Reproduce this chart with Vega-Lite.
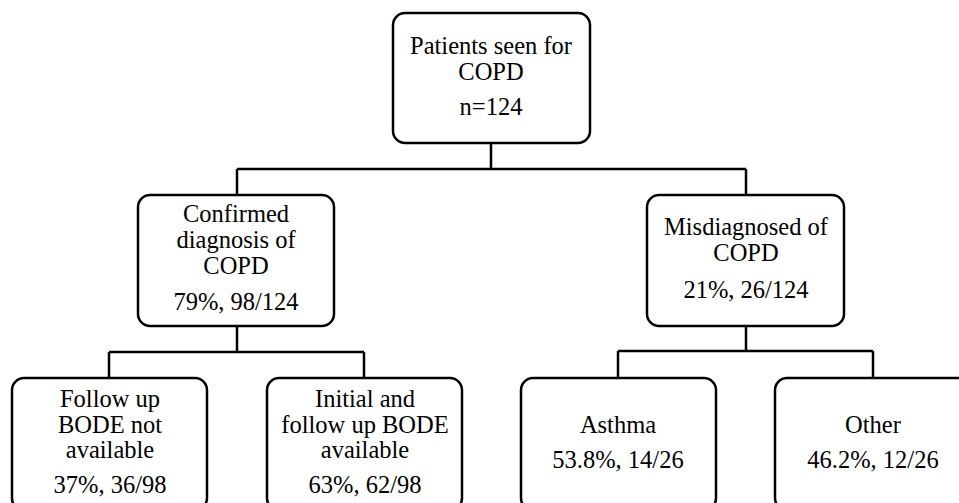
{
  "$schema": "https://vega.github.io/schema/vega-lite/v6.json",
  "width": 959,
  "height": 503,
  "padding": 0,
  "autosize": {"type": "none"},
  "background": "white",
  "config": {"view": {"stroke": null}},
  "datasets": {
    "boxes": [
      {"id": "top", "x1": 393, "x2": 590, "y1": 13, "y2": 143},
      {"id": "confirmed", "x1": 138, "x2": 334, "y1": 195, "y2": 326},
      {"id": "misdiagnosed", "x1": 647, "x2": 844, "y1": 195, "y2": 326},
      {"id": "followup", "x1": 12, "x2": 207, "y1": 378, "y2": 510},
      {"id": "initial", "x1": 267, "x2": 462, "y1": 378, "y2": 510},
      {"id": "asthma", "x1": 521, "x2": 716, "y1": 378, "y2": 510},
      {"id": "other", "x1": 775, "x2": 971, "y1": 378, "y2": 510}
    ],
    "links": [
      {"x1": 491, "x2": 491, "y1": 143, "y2": 169},
      {"x1": 237, "x2": 746, "y1": 169, "y2": 169},
      {"x1": 237, "x2": 237, "y1": 169, "y2": 195},
      {"x1": 746, "x2": 746, "y1": 169, "y2": 195},
      {"x1": 237, "x2": 237, "y1": 326, "y2": 352},
      {"x1": 109, "x2": 364, "y1": 352, "y2": 352},
      {"x1": 109, "x2": 109, "y1": 352, "y2": 378},
      {"x1": 364, "x2": 364, "y1": 352, "y2": 378},
      {"x1": 746, "x2": 746, "y1": 326, "y2": 351},
      {"x1": 618, "x2": 873, "y1": 351, "y2": 351},
      {"x1": 618, "x2": 618, "y1": 351, "y2": 378},
      {"x1": 873, "x2": 873, "y1": 351, "y2": 378}
    ],
    "labels": [
      {"text": "Patients seen for", "x": 491, "y": 54},
      {"text": "COPD", "x": 491, "y": 80},
      {"text": "n=124", "x": 491, "y": 115},
      {"text": "Confirmed", "x": 236, "y": 222},
      {"text": "diagnosis of", "x": 236, "y": 248},
      {"text": "COPD", "x": 236, "y": 274},
      {"text": "79%, 98/124", "x": 236, "y": 310},
      {"text": "Misdiagnosed of", "x": 746, "y": 235},
      {"text": "COPD", "x": 746, "y": 261},
      {"text": "21%, 26/124", "x": 746, "y": 298},
      {"text": "Follow up", "x": 110, "y": 407},
      {"text": "BODE not", "x": 110, "y": 433},
      {"text": "available", "x": 110, "y": 458},
      {"text": "37%, 36/98", "x": 110, "y": 493},
      {"text": "Initial and", "x": 365, "y": 407},
      {"text": "follow up BODE", "x": 365, "y": 433},
      {"text": "available", "x": 365, "y": 458},
      {"text": "63%, 62/98", "x": 365, "y": 493},
      {"text": "Asthma", "x": 618, "y": 433},
      {"text": "53.8%, 14/26", "x": 618, "y": 468},
      {"text": "Other", "x": 873, "y": 433},
      {"text": "46.2%, 12/26", "x": 873, "y": 468}
    ]
  },
  "layer": [
    {
      "data": {"name": "links"},
      "mark": {"type": "rule", "stroke": "black", "strokeWidth": 2.5, "clip": true},
      "encoding": {
        "x": {"field": "x1", "type": "quantitative", "scale": {"domain": [0, 959]}, "axis": null},
        "x2": {"field": "x2"},
        "y": {"field": "y1", "type": "quantitative", "scale": {"domain": [0, 503], "reverse": true}, "axis": null},
        "y2": {"field": "y2"}
      }
    },
    {
      "data": {"name": "boxes"},
      "mark": {"type": "rect", "fill": "white", "stroke": "black", "strokeWidth": 2.5, "cornerRadius": 12, "clip": true},
      "encoding": {
        "x": {"field": "x1", "type": "quantitative", "scale": {"domain": [0, 959]}, "axis": null},
        "x2": {"field": "x2"},
        "y": {"field": "y1", "type": "quantitative", "scale": {"domain": [0, 503], "reverse": true}, "axis": null},
        "y2": {"field": "y2"}
      }
    },
    {
      "data": {"name": "labels"},
      "mark": {"type": "text", "font": "Times New Roman", "fontSize": 24.5, "color": "black", "align": "center", "baseline": "alphabetic"},
      "encoding": {
        "x": {"field": "x", "type": "quantitative", "scale": {"domain": [0, 959]}, "axis": null},
        "y": {"field": "y", "type": "quantitative", "scale": {"domain": [0, 503], "reverse": true}, "axis": null},
        "text": {"field": "text"}
      }
    }
  ]
}
